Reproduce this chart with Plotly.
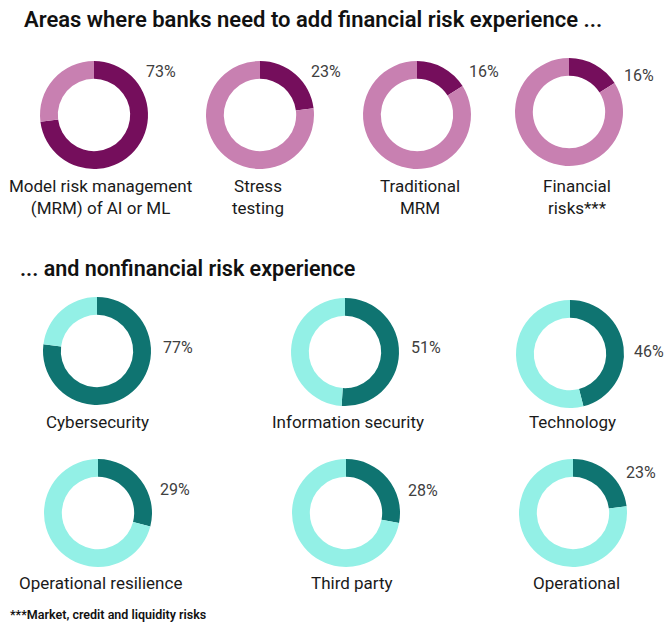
import plotly.graph_objects as go

W, H = 665, 623

# ---- data ----
fin_labels = ["Model risk management<br>(MRM) of AI or ML", "Stress<br>testing", "Traditional<br>MRM", "Financial<br>risks***"]
fin_values = [73, 23, 16, 16]
nonfin_labels = ["Cybersecurity", "Information security", "Technology",
                 "Operational resilience", "Third party", "Operational"]
nonfin_values = [77, 51, 46, 29, 28, 23]

title_text = "Areas where banks need to add financial risk experience ..."
subtitle_text = "... and nonfinancial risk experience"
footnote_text = "***Market, credit and liquidity risks"

# ---- styling / layout (screen pixel positions) ----
FIN_DARK, FIN_LIGHT = "#750E5C", "#C880B1"
NF_DARK, NF_LIGHT = "#0F7471", "#93F0E6"
R = 54
FONT = "Roboto"

fin_centers = [(94, 115), (260, 115), (417, 115), (569, 112)]
fin_pct_pos = [(161, 71), (326, 71), (484, 71), (639, 76)]
fin_lab_pos = [(100, 197), (258, 197), (420, 197), (577, 197)]

nf_centers = [(97, 351), (345, 352), (570, 354), (98, 513), (346, 513), (573, 513)]
nf_pct_pos = [(178, 347), (426, 347), (649, 351), (175, 489), (423, 490), (641, 472)]
nf_lab_pos = [(97, 422), (348, 422), (572, 422), (100, 583), (352, 583), (576, 583)]


def px(x):
    return x / W


def py(y):
    return 1 - y / H


fig = go.Figure()
annotations = []


def add_donut(center, value, dark, light):
    cx, cy = center
    fig.add_trace(go.Pie(
        values=[value, 100 - value],
        marker=dict(colors=[dark, light], line=dict(width=0)),
        hole=0.67, sort=False, direction="clockwise", rotation=0,
        textinfo="none", hoverinfo="skip", showlegend=False,
        domain=dict(x=[px(cx - R), px(cx + R)], y=[py(cy + R), py(cy - R)]),
    ))


def add_text(pos, text, size, color):
    x, y = pos
    annotations.append(dict(
        x=px(x), y=py(y), xref="paper", yref="paper", text=text,
        showarrow=False, xanchor="center", yanchor="middle",
        font=dict(family=FONT, size=size, color=color), align="center",
    ))


for c, v, pp, lp, lab in zip(fin_centers, fin_values, fin_pct_pos, fin_lab_pos, fin_labels):
    add_donut(c, v, FIN_DARK, FIN_LIGHT)
    add_text(pp, f"{v}%", 16, "#404040")
    add_text(lp, lab, 17, "#1a1a1a")

for c, v, pp, lp, lab in zip(nf_centers, nonfin_values, nf_pct_pos, nf_lab_pos, nonfin_labels):
    add_donut(c, v, NF_DARK, NF_LIGHT)
    add_text(pp, f"{v}%", 16, "#404040")
    add_text(lp, lab, 17, "#1a1a1a")

annotations.append(dict(x=px(22), y=py(20), xref="paper", yref="paper", text=title_text,
                        showarrow=False, xanchor="left", yanchor="middle",
                        font=dict(family=FONT, size=22, color="#111111", weight=600)))
annotations.append(dict(x=px(18), y=py(268), xref="paper", yref="paper", text=subtitle_text,
                        showarrow=False, xanchor="left", yanchor="middle",
                        font=dict(family=FONT, size=21.5, color="#111111", weight=600)))
annotations.append(dict(x=px(8), y=py(614), xref="paper", yref="paper", text=footnote_text,
                        showarrow=False, xanchor="left", yanchor="middle",
                        font=dict(family=FONT, size=12.5, color="#111111", weight=600)))

fig.update_layout(
    width=W, height=H,
    margin=dict(l=0, r=0, t=0, b=0),
    paper_bgcolor="white", plot_bgcolor="white",
    annotations=annotations,
)

# remove the default page margin so the 665x623 figure fills the window exactly
fig.write_html("out.html", config={"displayModeBar": False},
               post_script="document.body.style.margin='0px';document.body.style.overflow='hidden';")
